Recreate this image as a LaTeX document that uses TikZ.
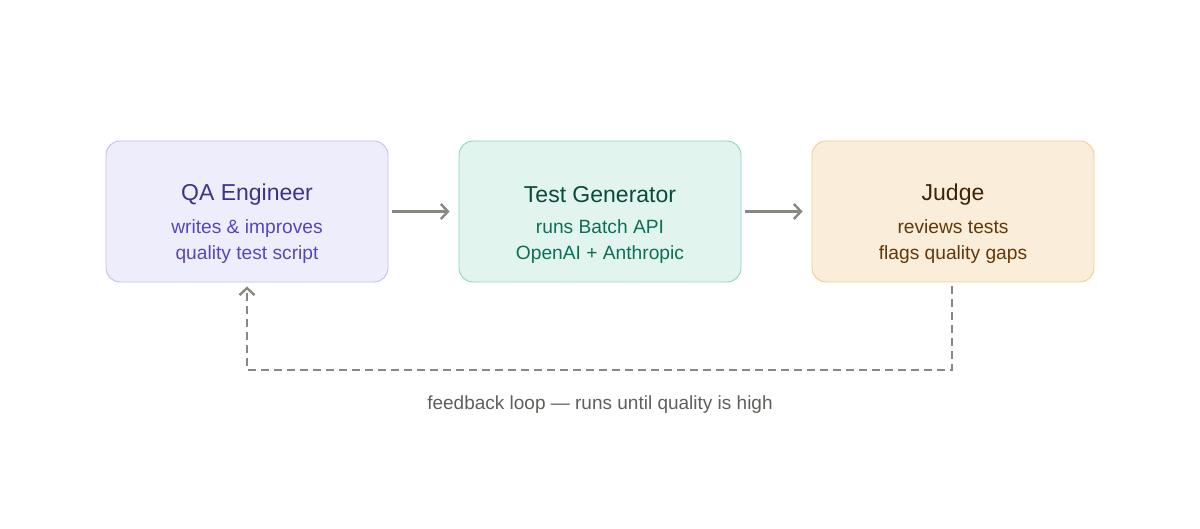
\documentclass[tikz,border=0pt]{standalone}
\usepackage{fontspec}
\setmainfont{Liberation Sans}
\usetikzlibrary{arrows.meta}
\definecolor{qafill}{HTML}{EEEDFC}
\definecolor{qadraw}{HTML}{C3BDEE}
\definecolor{qatitle}{HTML}{3C3489}
\definecolor{qasub}{HTML}{5447BE}
\definecolor{tgfill}{HTML}{E1F5EE}
\definecolor{tgdraw}{HTML}{8ED6BA}
\definecolor{tgtitle}{HTML}{0A4A3C}
\definecolor{tgsub}{HTML}{0F6E56}
\definecolor{jfill}{HTML}{FAEEDA}
\definecolor{jdraw}{HTML}{F1CC8F}
\definecolor{jtitle}{HTML}{3F2405}
\definecolor{jsub}{HTML}{633806}
\definecolor{conn}{HTML}{888780}
\definecolor{lbl}{HTML}{5F5E5A}
\tikzset{
  card/.style={rounded corners=14pt, line width=0.9pt, minimum width=282pt, minimum height=141pt, inner sep=0pt, align=center},
  ttl/.style={font=\fontsize{23}{27}\selectfont},
  sub/.style={font=\fontsize{19.2}{26}\selectfont},
  flow/.style={draw=conn, line width=2.4pt, -{Straight Barb[length=7pt,width=15pt,line width=2.4pt]}},
  fb/.style={draw=conn, line width=2.6pt, dash pattern=on 8pt off 5pt, -{Straight Barb[length=7pt,width=15pt,line width=2.4pt]}}
}
\begin{document}
\begin{tikzpicture}[x=1pt,y=-1pt]
\useasboundingbox (0,0) rectangle (1200,529);
\node[card, fill=qafill, draw=qadraw] (qa) at (247,211.5) {};
\node[card, fill=tgfill, draw=tgdraw] (tg) at (600,211.5) {};
\node[card, fill=jfill, draw=jdraw] (jd) at (953,211.5) {};
\node[ttl, text=qatitle] (qat) at (247,195) {QA Engineer};
\node[sub, text=qasub, align=center] (qas) at (247,242) {writes \& improves\\quality test script};
\node[ttl, text=tgtitle] (tgt) at (600,195) {Test Generator};
\node[sub, text=tgsub, align=center] (tgs) at (600,242) {runs Batch API\\OpenAI + Anthropic};
\node[ttl, text=jtitle] (jdt) at (953,195) {Judge};
\node[sub, text=jsub, align=center] (jds) at (953,242) {reviews tests\\flags quality gaps};
\draw[flow] ([xshift=4pt]qa.east) -- ([xshift=-9pt]tg.west);
\draw[flow] ([xshift=4pt]tg.east) -- ([xshift=-9pt]jd.west);
\coordinate (c1) at (952,370);
\coordinate (c2) at (247,370);
\draw[fb] ([xshift=-1pt,yshift=-4pt]jd.south) -- (c1) -- (c2) -- ([yshift=-4pt]qa.south);
\node[text=lbl, font=\fontsize{19}{22}\selectfont] (fbl) at (600,405) {feedback loop — runs until quality is high};
\end{tikzpicture}
\end{document}
